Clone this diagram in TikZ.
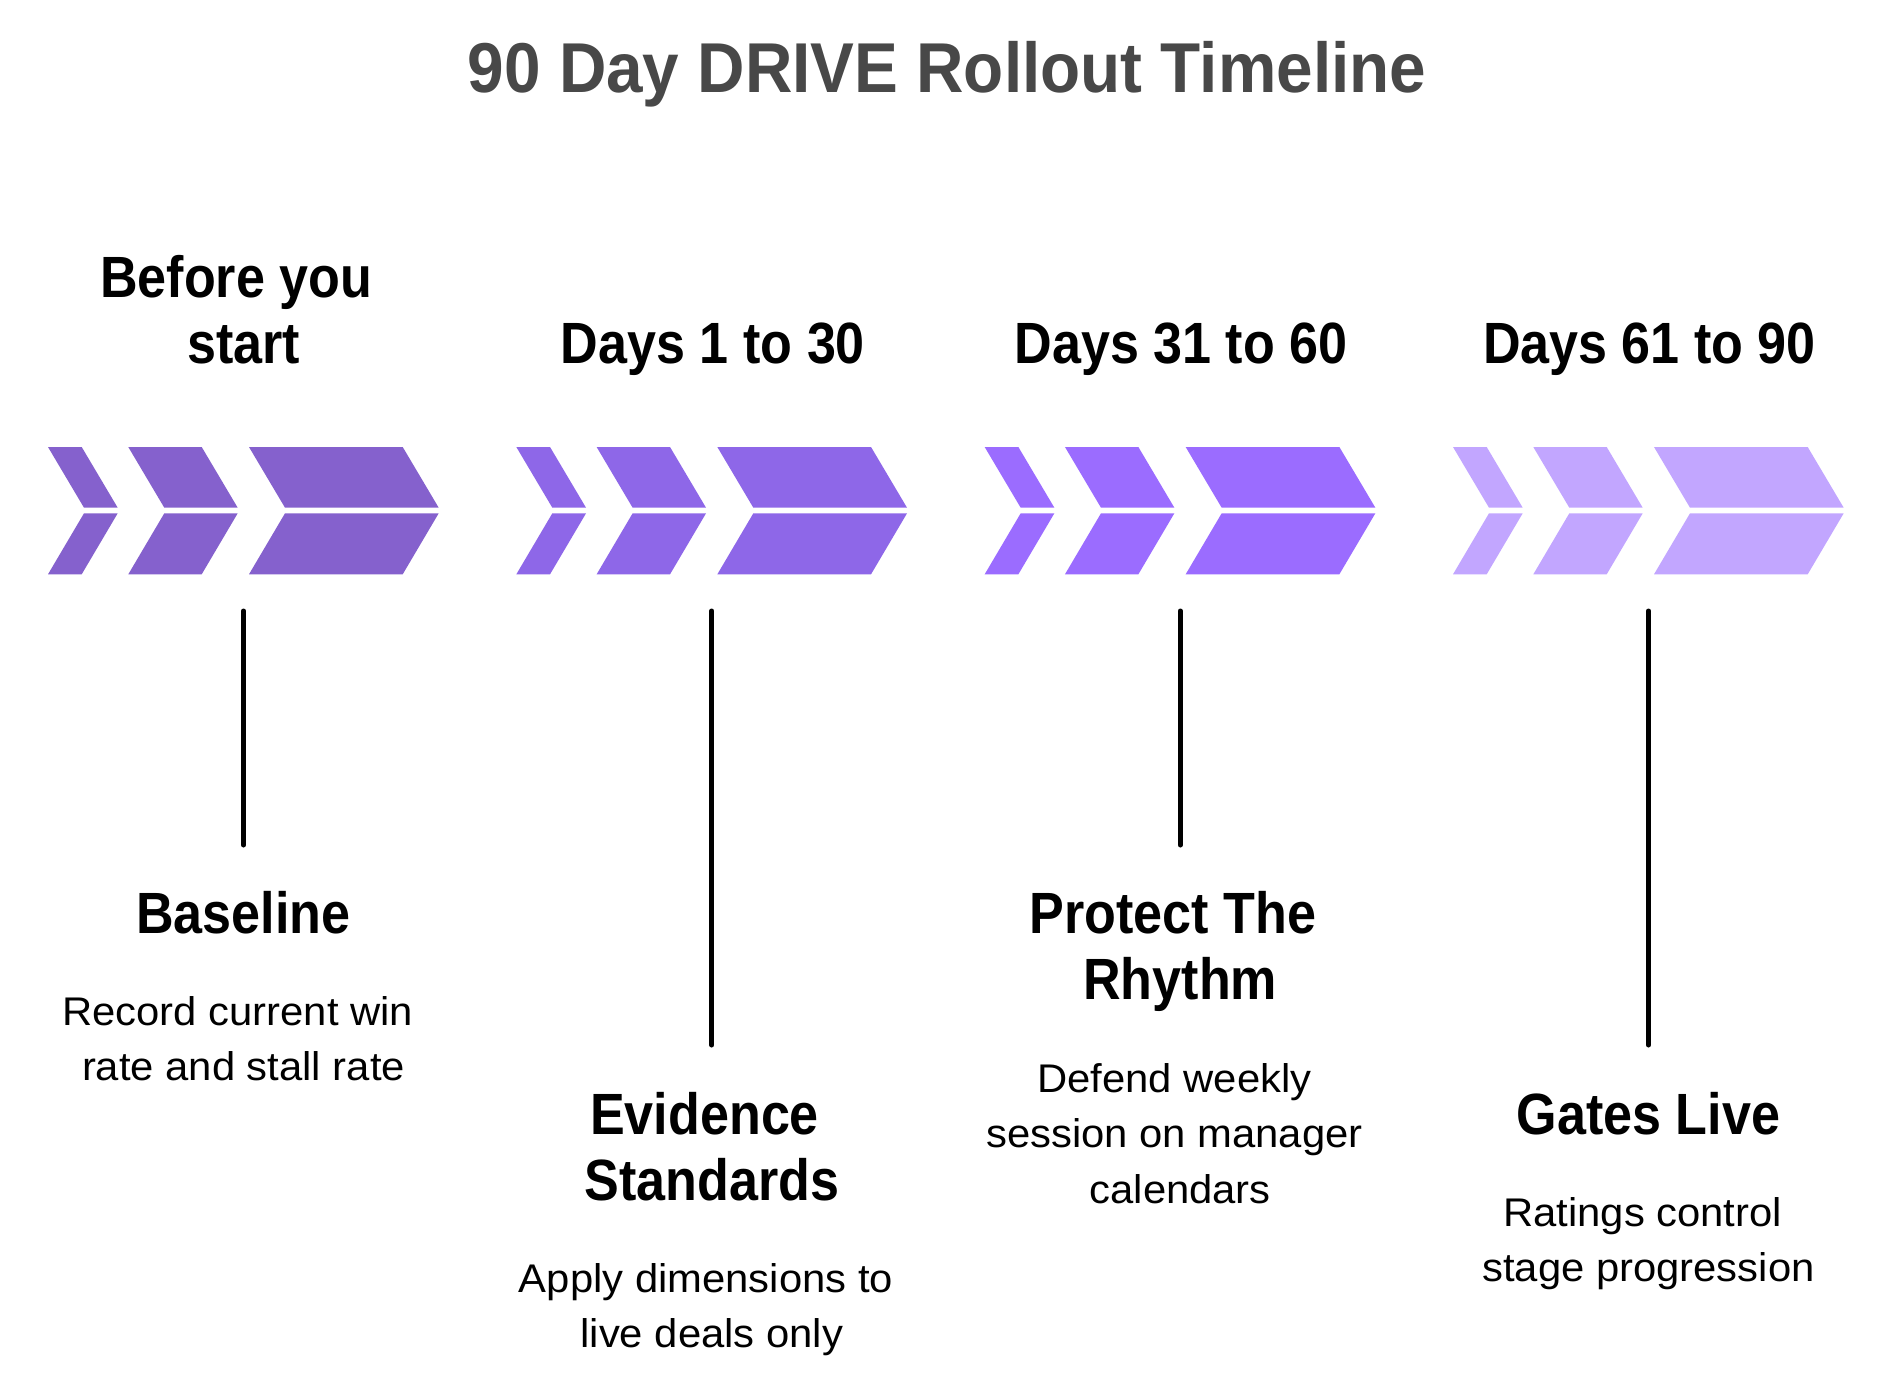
\documentclass[tikz,border=0pt]{standalone}
\usepackage{fontspec}
\setmainfont{Liberation Sans}
\newfontfamily\titlefont[FakeStretch=0.93]{Liberation Sans Bold}
\newfontfamily\headfont[FakeStretch=0.895]{Liberation Sans Bold}
\newfontfamily\descfont[FakeStretch=1.045]{Liberation Sans}
\definecolor{grpA}{HTML}{8561CD}
\definecolor{grpB}{HTML}{8E67E8}
\definecolor{grpC}{HTML}{9B6CFF}
\definecolor{grpD}{HTML}{C2A6FF}
\definecolor{titlegray}{HTML}{484848}
\newcommand\tsp{\hspace*{\fontdimen2\font}\null}
% one chevron (two halves): #1 group x, #2 left, #3 right, #4 colour
\newcommand\chevpair[4]{%
  \fill[#4] ({#1+#2},447) -- ({#1+#3},447) -- ({#1+#3+36},507.7) -- ({#1+#2+36},507.7) -- cycle;
  \fill[#4] ({#1+#2+36},513.3) -- ({#1+#3+36},513.3) -- ({#1+#3},574.3) -- ({#1+#2},574.3) -- cycle;}
\newcommand\chevgroup[2]{\chevpair{#1}{0}{33.7}{#2}\chevpair{#1}{80.3}{153.7}{#2}\chevpair{#1}{201}{354.7}{#2}}
\begin{document}
\begin{tikzpicture}[x=0.5pt,y=-0.5pt,
  titletext/.style={anchor=base, inner sep=0pt, text=titlegray, font=\titlefont\fontsize{35.3pt}{40pt}\selectfont},
  headtext/.style={anchor=base, inner sep=0pt, text=black, font=\headfont\fontsize{29.1pt}{33pt}\selectfont},
  desctext/.style={anchor=base, inner sep=0pt, text=black, font=\descfont\fontsize{20pt}{27pt}\selectfont},
  stem/.style={draw=black, line width=2.5pt, line cap=round}]
\useasboundingbox (0,0) rectangle (1892,1397);
\fill[white] (0,0) rectangle (1892,1397);

% title
\node[titletext] (title) at (947,92) {90 Day DRIVE Rollout Timeline};

% chevrons
\chevgroup{48}{grpA}
\chevgroup{516.33}{grpB}
\chevgroup{984.67}{grpC}
\chevgroup{1453}{grpD}

% phase headings
\node[headtext] (ph1a) at (243.5,297.5) {Before you\tsp};
\node[headtext] (ph1b) at (243.5,363) {start};
\node[headtext] (ph2) at (713,363) {Days 1 to 30};
\node[headtext] (ph3) at (1181,363) {Days 31 to 60};
\node[headtext] (ph4) at (1649.5,363) {Days 61 to 90};

% stems
\coordinate (s1t) at (243.5,611);  \coordinate (s1b) at (243.5,845);
\coordinate (s2t) at (711.8,611);  \coordinate (s2b) at (711.8,1045);
\coordinate (s3t) at (1180.2,611); \coordinate (s3b) at (1180.2,845);
\coordinate (s4t) at (1648.5,611); \coordinate (s4b) at (1648.5,1045);
\draw[stem] (s1t) -- (s1b);
\draw[stem] (s2t) -- (s2b);
\draw[stem] (s3t) -- (s3b);
\draw[stem] (s4t) -- (s4b);

% group 1
\node[headtext] (t1) at (243.5,933) {Baseline};
\node[desctext] (d1a) at (243.5,1025) {Record current win\tsp};
\node[desctext] (d1b) at (243.5,1080) {rate and stall rate};

% group 2
\node[headtext] (t2a) at (711.8,1134.5) {Evidence\tsp};
\node[headtext] (t2b) at (711.8,1200.5) {Standards};
\node[desctext] (d2a) at (711.8,1292.5) {Apply dimensions to\tsp};
\node[desctext] (d2b) at (711.8,1347.5) {live deals only};

% group 3
\node[headtext] (t3a) at (1180.2,933) {Protect The\tsp};
\node[headtext] (t3b) at (1180.2,999) {Rhythm};
\node[desctext] (d3a) at (1180.2,1092.5) {Defend weekly\tsp};
\node[desctext] (d3b) at (1180.2,1147.5) {session on manager\tsp};
\node[desctext] (d3c) at (1180.2,1203) {calendars};

% group 4
\node[headtext] (t4) at (1648.5,1134) {Gates Live};
\node[desctext] (d4a) at (1648.5,1226) {Ratings control\tsp};
\node[desctext] (d4b) at (1648.5,1281) {stage progression};
\end{tikzpicture}
\end{document}
